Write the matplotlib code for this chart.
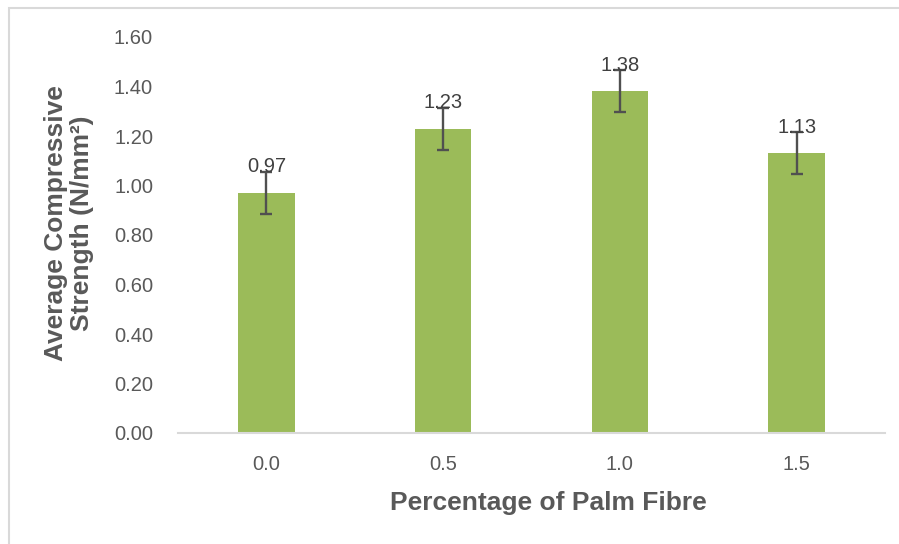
import matplotlib
matplotlib.use("Agg")
import matplotlib.pyplot as plt
from matplotlib.patches import Rectangle
import numpy as np

categories = ["0.0", "0.5", "1.0", "1.5"]
strength = [0.97, 1.23, 1.38, 1.13]
errors = [0.085, 0.085, 0.085, 0.085]
yticks = [0.0, 0.2, 0.4, 0.6, 0.8, 1.0, 1.2, 1.4, 1.6]

plt.rcParams['font.family'] = ['Liberation Sans', 'DejaVu Sans']
gray = '#595959'

fig = plt.figure(figsize=(8.99, 5.44), dpi=100)
ax = fig.add_axes([178 / 899, 1 - 433 / 544, 707 / 899, 396 / 544])

x = np.arange(len(categories))
ax.bar(x, strength, width=0.32, color='#9BBB59', zorder=2)
ax.errorbar(x, strength, yerr=errors, fmt='none', ecolor='#505050',
            elinewidth=1.7, capsize=4.5, capthick=1.7, zorder=3)

for xi, v in zip(x, strength):
    ax.annotate(f"{v:.2f}", (xi, v), xytext=(0, 12), textcoords='offset points',
                ha='center', va='bottom', fontsize=14.5, color='#404040', zorder=4)

ax.set_xlim(-0.5, len(categories) - 0.5)
ax.set_ylim(0, 1.6)
ax.set_yticks(yticks)
ax.set_yticklabels([f"{t:.2f}" for t in yticks], fontsize=14.5, color=gray)
ax.set_xticks(x)
ax.set_xticklabels(categories, fontsize=14.5, color=gray)
ax.tick_params(axis='both', length=0)
ax.tick_params(axis='y', pad=18)
ax.tick_params(axis='x', pad=16)

for side in ['top', 'right', 'left']:
    ax.spines[side].set_visible(False)
ax.spines['bottom'].set_color('#D9D9D9')
ax.spines['bottom'].set_linewidth(1.5)

fig.text(548 / 899, 1 - 503 / 544, "Percentage of Palm Fibre", ha='center', va='center',
         fontsize=19, fontweight='bold', color=gray)
fig.text(69 / 899, 1 - 223 / 544, "Average Compressive\nStrength (N/mm²)", ha='center',
         va='center', rotation=90, fontsize=19, fontweight='bold', color=gray,
         linespacing=1.15)

# chart border (only top and left visible in the reference)
fig.patches.append(Rectangle((8.5 / 899, -0.1), 1.2, 1 - 8.5 / 544 + 0.1,
                             transform=fig.transFigure, fill=False,
                             edgecolor='#D9D9D9', linewidth=1.5))

fig.savefig("out.png", dpi=100)
